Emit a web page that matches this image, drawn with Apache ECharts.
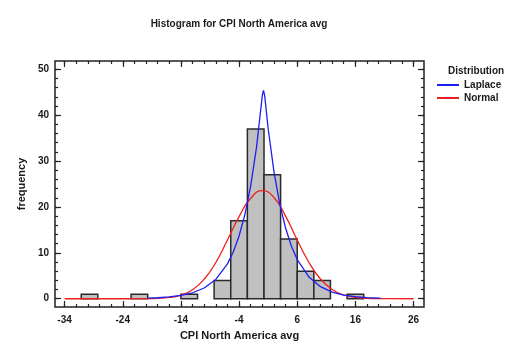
<!DOCTYPE html>
<html>
<head>
<meta charset="utf-8">
<script src="https://cdn.jsdelivr.net/npm/echarts@6/dist/echarts.min.js"></script>
<style>
html,body{margin:0;padding:0;background:#fff;}
#chart{width:518px;height:350px;}
</style>
</head>
<body>
<div id="chart"></div>
<script>
// ---- data ----
var binEdges = [-34, -31.14, -28.29, -25.43, -22.57, -19.71, -16.86, -14, -11.14, -8.29, -5.43,
                -2.57, 0.29, 3.14, 6, 8.86, 11.71, 14.57, 17.43, 20.29, 23.14, 26];
var binCounts = [0, 1, 0, 0, 1, 0, 0, 1, 0, 4, 17, 37, 27, 13, 6, 4, 0, 1, 0, 0, 0];

var laplaceX = [-19.7, -18, -16, -14, -12, -10, -8, -6, -5, -4, -3, -2, -1, 0, 0.2, 0.4, 1, 2, 3, 4, 5, 6, 8, 10, 12, 14, 16, 18, 20.3];
var laplaceY = [0.14, 0.22, 0.40, 0.72, 1.30, 2.34, 4.21, 7.59, 10.19, 13.67, 18.34, 24.6, 33.0, 44.3, 45.4, 44.3, 37.1, 27.7, 20.6, 15.4, 11.45, 8.53, 4.74, 2.63, 1.46, 0.81, 0.45, 0.25, 0.13];

var normalX = [-34, -30, -26, -24, -22, -20, -18, -16, -14, -12, -10, -8, -6, -4, -2, 0, 2, 4, 6, 8, 10, 12, 14, 16, 18, 20, 22, 26];
var normalY = [0, 0, 0, 0.001, 0.006, 0.024, 0.089, 0.29, 0.80, 1.96, 4.25, 7.9, 12.8, 17.9, 21.9, 23.55, 22.05, 18.0, 12.8, 7.95, 4.30, 2.03, 0.83, 0.30, 0.093, 0.025, 0.006, 0];

var xMajorTicks = [-34, -24, -14, -4, 6, 16, 26];
var xMinorTicks = [-34, -32, -30, -28, -26, -24, -22, -20, -18, -16, -14, -12, -10, -8, -6, -4, -2, 0, 2, 4, 6, 8, 10, 12, 14, 16, 18, 20, 22, 24, 26];
var yMajorTicks = [0, 10, 20, 30, 40, 50];
var yMinorTicks = [0, 2, 4, 6, 8, 10, 12, 14, 16, 18, 20, 22, 24, 26, 28, 30, 32, 34, 36, 38, 40, 42, 44, 46, 48, 50];

var titleText = 'Histogram for CPI North America avg';
var xName = 'CPI North America avg';
var yName = 'frequency';
var legendTitle = 'Distribution';
var seriesNames = ['Laplace', 'Normal'];

// ---- build ----
var histData = [];
for (var i = 0; i < binCounts.length; i++) {
  histData.push([binEdges[i], binEdges[i + 1], binCounts[i]]);
}
function pairs(xs, ys) { var o = []; for (var i = 0; i < xs.length; i++) o.push([xs[i], ys[i]]); return o; }

var FONT = '"Liberation Sans", Arial, sans-serif';
var TXT = '#1a1a1a';
var XMIN = -35.65, XMAX = 27.8, YMIN = -1.8, YMAX = 51.8;

function xAx(pos, ticks, len, labels) {
  return {
    type: 'value', position: pos, min: XMIN, max: XMAX,
    axisLine: { show: false, onZero: false },
    splitLine: { show: false },
    axisTick: { show: true, inside: true, length: len, customValues: ticks, lineStyle: { color: '#222', width: 1.2 } },
    axisLabel: labels ? { show: true, customValues: ticks, color: TXT, fontFamily: FONT, fontWeight: 'bold', fontSize: 10, margin: 8 } : { show: false },
    name: labels ? xName : '', nameLocation: 'middle', nameGap: 23,
    nameTextStyle: { color: TXT, fontFamily: FONT, fontWeight: 'bold', fontSize: 11 }
  };
}
function yAx(pos, ticks, len, labels) {
  return {
    type: 'value', position: pos, min: YMIN, max: YMAX,
    axisLine: { show: false, onZero: false },
    splitLine: { show: false },
    axisTick: { show: true, inside: true, length: len, customValues: ticks, lineStyle: { color: '#222', width: 1.2 } },
    axisLabel: labels ? { show: true, customValues: ticks, color: TXT, fontFamily: FONT, fontWeight: 'bold', fontSize: 10, margin: 6 } : { show: false },
    name: labels ? yName : '', nameLocation: 'middle', nameGap: 21,
    nameTextStyle: { color: TXT, fontFamily: FONT, fontWeight: 'bold', fontSize: 11 }
  };
}

var chart = echarts.init(document.getElementById('chart'), null, { renderer: 'canvas' });
chart.setOption({
  animation: false,
  backgroundColor: '#fff',
  title: [
    { text: titleText, left: 234, top: 14, textAlign: 'center',
      textStyle: { color: TXT, fontFamily: FONT, fontWeight: 'bold', fontSize: 10 } },
    { text: legendTitle, left: 443, top: 61,
      textStyle: { color: TXT, fontFamily: FONT, fontWeight: 'bold', fontSize: 10 } }
  ],
  legend: {
    orient: 'vertical', left: 432, top: 75, itemWidth: 22, itemHeight: 2, itemGap: 3,
    icon: 'rect',
    data: seriesNames,
    textStyle: { color: TXT, fontFamily: FONT, fontWeight: 'bold', fontSize: 10 }
  },
  grid: { left: 55, right: 94, top: 61, bottom: 43, show: true, borderColor: '#222', borderWidth: 1.5, backgroundColor: 'transparent' },
  xAxis: [xAx('bottom', xMajorTicks, 6, true), xAx('bottom', xMinorTicks, 3, false), xAx('top', xMajorTicks, 6, false), xAx('top', xMinorTicks, 3, false)],
  yAxis: [yAx('left', yMajorTicks, 6, true), yAx('left', yMinorTicks, 3, false), yAx('right', yMajorTicks, 6, false), yAx('right', yMinorTicks, 3, false)],
  series: [
    {
      type: 'custom', name: 'hist', xAxisIndex: 0, yAxisIndex: 0,
      encode: { x: [0, 1], y: 2 },
      data: histData,
      renderItem: function (params, api) {
        var c = api.value(2);
        if (!c) return null;
        var p0 = api.coord([api.value(0), 0]);
        var p1 = api.coord([api.value(1), c]);
        return { type: 'rect', shape: { x: p0[0], y: p1[1], width: p1[0] - p0[0], height: p0[1] - p1[1] },
                 style: { fill: '#c0c0c0', stroke: '#2a2a2a', lineWidth: 1.5 } };
      },
      z: 1
    },
    {
      type: 'line', name: seriesNames[0], xAxisIndex: 0, yAxisIndex: 0,
      data: pairs(laplaceX, laplaceY), showSymbol: false, symbol: 'none', smooth: false,
      lineStyle: { color: '#1e1ef0', width: 1.3 }, itemStyle: { color: '#1e1ef0' }, z: 3
    },
    {
      type: 'line', name: seriesNames[1], xAxisIndex: 0, yAxisIndex: 0,
      data: pairs(normalX, normalY), showSymbol: false, symbol: 'none', smooth: true,
      lineStyle: { color: '#f01e1e', width: 1.3 }, itemStyle: { color: '#f01e1e' }, z: 2
    }
  ]
});
</script>
</body>
</html>
